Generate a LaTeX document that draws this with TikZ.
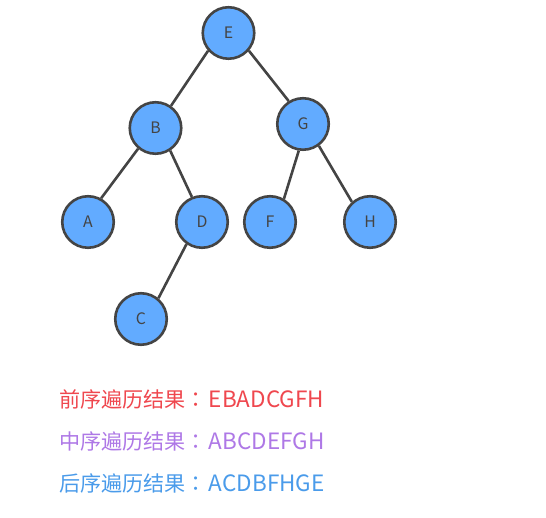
\documentclass[tikz,border=0pt]{standalone}
\usepackage{fontspec}
\setmainfont{Noto Sans CJK SC}
\newfontfamily\colonfont{Noto Sans CJK TC}
\newcommand{\seqtext}[1]{\kern0.04cm{\fontsize{12.8}{14}\selectfont #1}}
\definecolor{nodeblue}{HTML}{62ABFF}
\definecolor{edgegray}{HTML}{444444}
\definecolor{prered}{HTML}{EF474E}
\definecolor{inpurple}{HTML}{AE78E6}
\definecolor{postblue}{HTML}{4A9BEA}
\begin{document}
\begin{tikzpicture}[
  tree/.style={circle, draw=edgegray, line width=0.052cm, fill=nodeblue,
               minimum size=1.03cm, inner sep=0pt, font=\fontsize{9}{10}\selectfont,
               text=edgegray},
  arr/.style={draw=edgegray, line width=0.052cm},
  result/.style={anchor=west, inner sep=0pt, font=\fontsize{12}{14}\selectfont}
]
\useasboundingbox (0,0) rectangle (10.92,10.34);
% Tree nodes
\node[tree] (e) at (4.57,9.68) {E};
\node[tree] (b) at (3.11,7.78) {B};
\node[tree] (g) at (6.06,7.86) {G};
\node[tree] (a) at (1.76,5.90) {A};
\node[tree] (d) at (4.04,5.90) {D};
\node[tree] (f) at (5.40,5.90) {F};
\node[tree] (h) at (7.40,5.90) {H};
\node[tree] (c) at (2.82,3.96) {C};

\draw[arr] (e.221) -- (b.55);
\draw[arr] (e.319) -- (g.122);
\draw[arr] (b.230) -- (a.61);
\draw[arr] (b.303) -- (d.112);
\draw[arr] (d.235) -- (c.50);
\draw[arr] (g.261) -- (f.59);
\draw[arr] (g.306) -- (h.132);

% Traversal results
\node[result, text=prered] (pre) at (1.18,2.36) {前序遍历结果{\colonfont ：}\seqtext{EBADCGFH}};
\node[result, text=inpurple] (in) at (1.18,1.52) {中序遍历结果{\colonfont ：}\seqtext{ABCDEFGH}};
\node[result, text=postblue] (post) at (1.18,0.68) {后序遍历结果{\colonfont ：}\seqtext{ACDBFHGE}};
\end{tikzpicture}
\end{document}
